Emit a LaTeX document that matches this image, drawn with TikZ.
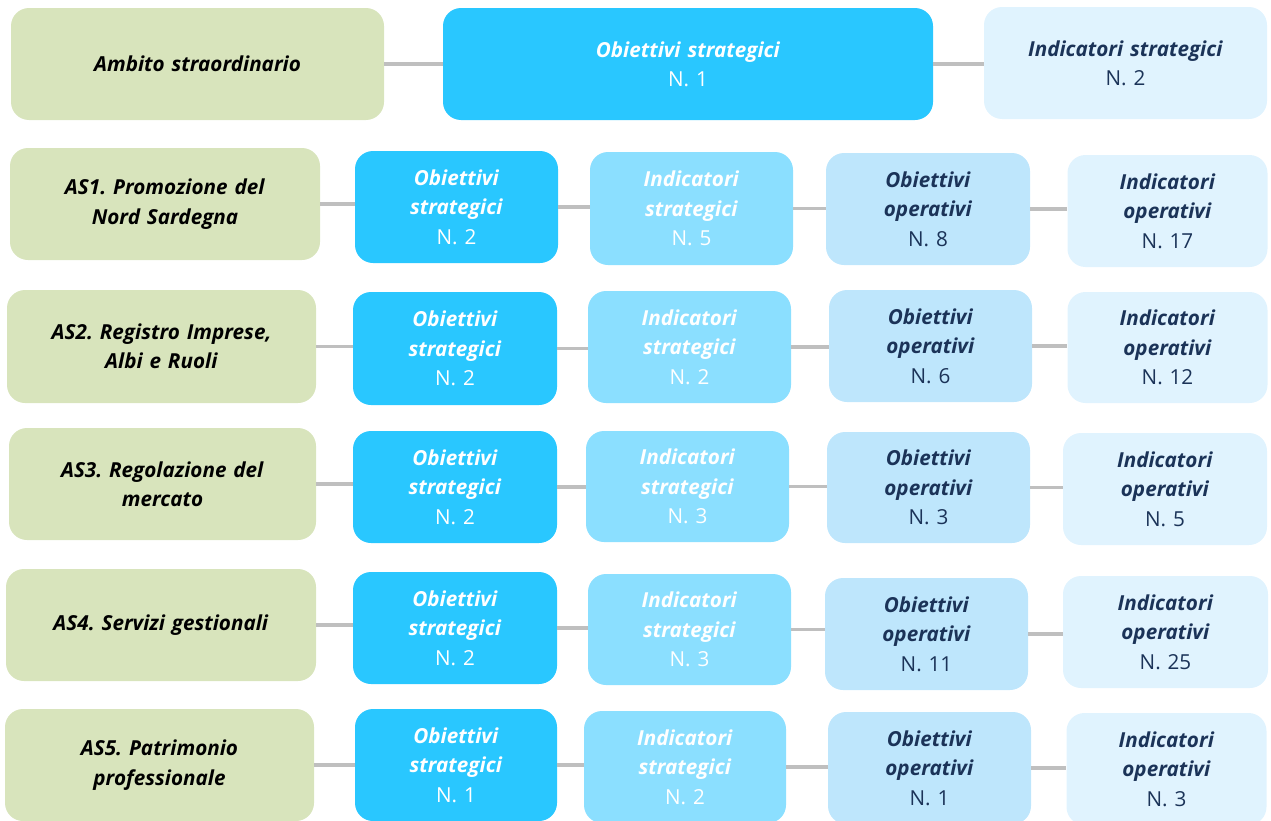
\documentclass[tikz,border=0pt]{standalone}
\usepackage{fontspec}
\setmainfont{Open Sans}
\frenchspacing
\definecolor{cgreen}{HTML}{D8E4BC}
\definecolor{cone}{HTML}{29C7FF}
\definecolor{ctwo}{HTML}{8BDFFF}
\definecolor{cthree}{HTML}{BEE6FC}
\definecolor{cfour}{HTML}{E0F3FE}
\definecolor{navy}{HTML}{1B3358}
\definecolor{conn}{HTML}{BFBFBF}
\newcommand\hd[1]{\textbf{\textit{#1}}}
\newcommand\bx[7]{\node[#6, minimum width={(#4-#2)*0.75pt}, minimum height={(#5-#3)*0.75pt}] (#1) at ({(#2+#4)/2},{(#3+#5)/2}) {#7};}
\tikzset{
  box/.style={rounded corners=13.5pt, align=center, inner sep=0pt, text width=150pt,
    font=\fontsize{15.5}{22}\selectfont},
  gbox/.style={box, fill=cgreen, text=black},
  sbox/.style={box, fill=cone, text=white},
  ibox/.style={box, fill=ctwo, text=white},
  obox/.style={box, fill=cthree, text=navy},
  pbox/.style={box, fill=cfour, text=navy},
  link/.style={draw=conn, line width=2.4pt},
}
\begin{document}
\begin{tikzpicture}[x=0.75pt,y=-0.75pt]
\useasboundingbox (0,0) rectangle (1271,821);
\clip (0,0) rectangle (1271,821);
% top row
\bx{A0}{11}{8}{384}{120}{gbox,text width=260pt}{\hd{Ambito straordinario}}
\bx{B0}{443}{8}{933}{120}{sbox,text width=340pt}{\hd{Obiettivi strategici}\\N. 1}
\bx{C0}{984}{7}{1267}{119}{pbox,text width=200pt}{\hd{Indicatori strategici}\\N. 2}
% row 1
\bx{G1}{10}{148}{320}{260}{gbox,text width=220pt}{\hd{AS1. Promozione del}\\\hd{Nord Sardegna}}
\bx{S1}{355}{151}{558}{263}{sbox}{\hd{Obiettivi}\\\hd{strategici}\\N. 2}
\bx{I1}{590}{152}{793}{265}{ibox}{\hd{Indicatori}\\\hd{strategici}\\N. 5}
\bx{O1}{826}{153}{1030}{265}{obox}{\hd{Obiettivi}\\\hd{operativi}\\N. 8}
\bx{P1}{1068}{155}{1267}{267}{pbox}{\hd{Indicatori}\\\hd{operativi}\\N. 17}
% row 2
\bx{G2}{7}{290}{316}{403}{gbox,text width=220pt}{\hd{AS2. Registro Imprese,}\\\hd{Albi e Ruoli}}
\bx{S2}{353}{292}{557}{405}{sbox}{\hd{Obiettivi}\\\hd{strategici}\\N. 2}
\bx{I2}{588}{291}{791}{403}{ibox}{\hd{Indicatori}\\\hd{strategici}\\N. 2}
\bx{O2}{829}{290}{1032}{402}{obox}{\hd{Obiettivi}\\\hd{operativi}\\N. 6}
\bx{P2}{1068}{292}{1267}{403}{pbox}{\hd{Indicatori}\\\hd{operativi}\\N. 12}
% row 3
\bx{G3}{9}{428}{316}{540}{gbox,text width=220pt}{\hd{AS3. Regolazione del}\\\hd{mercato}}
\bx{S3}{353}{431}{557}{543}{sbox}{\hd{Obiettivi}\\\hd{strategici}\\N. 2}
\bx{I3}{586}{431}{789}{542}{ibox}{\hd{Indicatori}\\\hd{strategici}\\N. 3}
\bx{O3}{827}{432}{1030}{543}{obox}{\hd{Obiettivi}\\\hd{operativi}\\N. 3}
\bx{P3}{1063}{433}{1267}{545}{pbox}{\hd{Indicatori}\\\hd{operativi}\\N. 5}
% row 4
\bx{G4}{6}{569}{316}{681}{gbox,text width=220pt}{\hd{AS4. Servizi gestionali}}
\bx{S4}{353}{572}{557}{684}{sbox}{\hd{Obiettivi}\\\hd{strategici}\\N. 2}
\bx{I4}{588}{574}{791}{685}{ibox}{\hd{Indicatori}\\\hd{strategici}\\N. 3}
\bx{O4}{825}{578}{1028}{690}{obox}{\hd{Obiettivi}\\\hd{operativi}\\N. 11}
\bx{P4}{1063}{576}{1268}{688}{pbox}{\hd{Indicatori}\\\hd{operativi}\\N. 25}
% row 5
\bx{G5}{5}{709}{314}{821}{gbox,text width=220pt}{\hd{AS5. Patrimonio}\\\hd{professionale}}
\bx{S5}{355}{709}{557}{821}{sbox}{\hd{Obiettivi}\\\hd{strategici}\\N. 1}
\bx{I5}{584}{711}{786}{823}{ibox}{\hd{Indicatori}\\\hd{strategici}\\N. 2}
\bx{O5}{828}{712}{1031}{824}{obox}{\hd{Obiettivi}\\\hd{operativi}\\N. 1}
\bx{P5}{1067}{713}{1266}{825}{pbox}{\hd{Indicatori}\\\hd{operativi}\\N. 3}
% connectors
\draw[link] (A0.east) -- (A0.east -| B0.west);
\draw[link] (B0.east) -- (B0.east -| C0.west);
\foreach \r in {1,...,5}{
  \draw[link] (G\r.east) -- (G\r.east -| S\r.west);
  \draw[link] (S\r.east) -- (S\r.east -| I\r.west);
  \draw[link] (I\r.east) -- (I\r.east -| O\r.west);
  \draw[link] (O\r.east) -- (O\r.east -| P\r.west);
}
\end{tikzpicture}
\end{document}
